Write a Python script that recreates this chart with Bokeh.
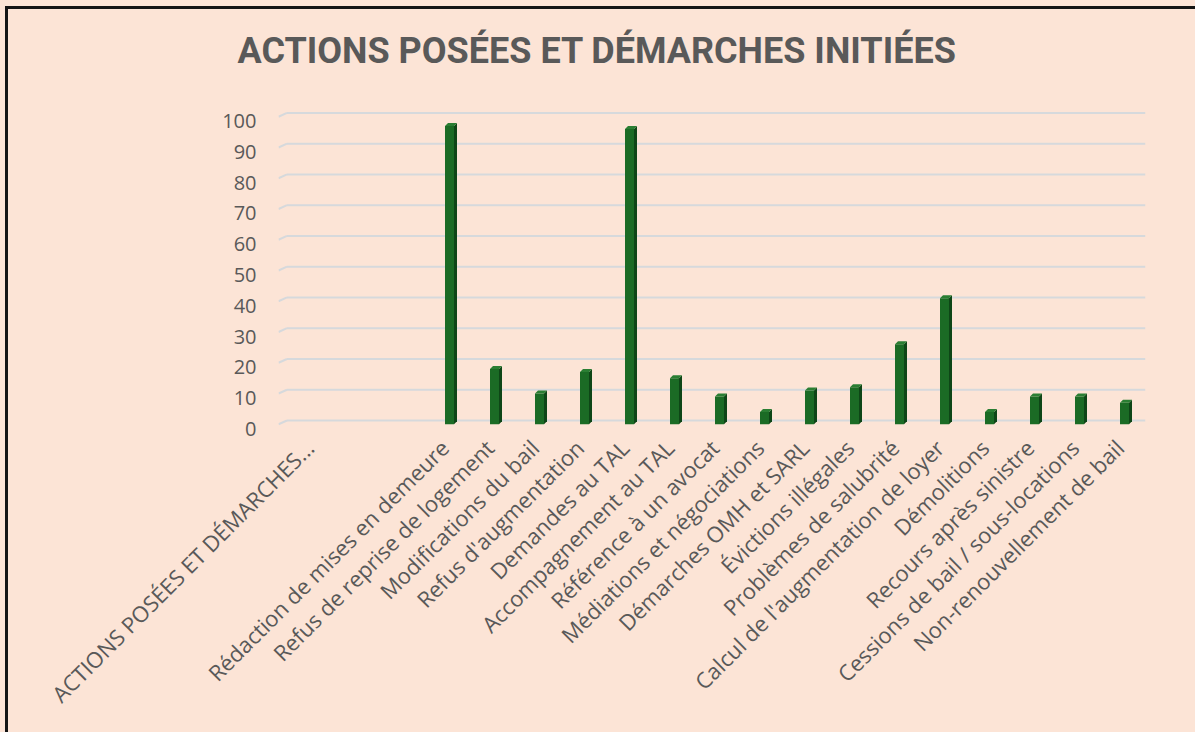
from math import pi
from bokeh.plotting import figure
from bokeh.models import Range1d, FixedTicker, LinearAxis, Title
from bokeh.embed import file_html
from bokeh.resources import INLINE

# ---------------- data ----------------
title_text = "ACTIONS POSÉES ET DÉMARCHES INITIÉES"
categories = [
    "ACTIONS POSÉES ET DÉMARCHES...",
    "",
    "",
    "Rédaction de mises en demeure",
    "Refus de reprise de logement",
    "Modifications du bail",
    "Refus d'augmentation",
    "Demandes au TAL",
    "Accompagnement au TAL",
    "Référence à un avocat",
    "Médiations et négociations",
    "Démarches OMH et SARL",
    "Évictions illégales",
    "Problèmes de salubrité",
    "Calcul de l'augmentation de loyer",
    "Démolitions",
    "Recours après sinistre",
    "Cessions de bail / sous-locations",
    "Non-renouvellement de bail",
]
values = [None, None, None, 97, 18, 10, 17, 96, 15, 9, 4, 11, 12, 26, 41, 4, 9, 9, 7]
y_ticks = list(range(0, 101, 10))

# ---------------- style / layout ----------------
BG = "#FCE4D6"
TXT = "#595959"
GRID = "#D6D9DC"
FRONT = "#1B6B25"
SIDE = "#0E4617"
TOP = "#2A7E33"

W, H = 1195, 732
B_LEFT, B_RIGHT, B_TOP, B_BOTTOM = 270, 58, 98, 308
SLOT_PX = 45.0
frame_w = W - B_LEFT - B_RIGHT
frame_h = H - B_TOP - B_BOTTOM
x_start = -0.5 - 8.5 / SLOT_PX
x_end = x_start + frame_w / SLOT_PX
y_start, y_end = -3, 103
PY = frame_h / (y_end - y_start)


def dx(px):
    return px / SLOT_PX


def dy(px):
    return px / PY


p = figure(
    width=W, height=H,
    x_range=Range1d(x_start, x_end), y_range=Range1d(y_start, y_end),
    output_backend="svg", toolbar_location=None, y_axis_location=None,
    min_border_left=B_LEFT, min_border_right=B_RIGHT,
    min_border_top=B_TOP, min_border_bottom=B_BOTTOM,
    background_fill_color=BG, border_fill_color=BG,
    outline_line_color=None,
)
p.styles = {
    "border-left": f"5px solid {BG}",
    "border-top": f"6px solid {BG}",
    "padding-left": "3px",
    "padding-top": "3px",
    "box-shadow": "inset 3px 3px 0 0 #141414",
    "background-color": BG,
}
p.xgrid.visible = False
p.ygrid.visible = False

# title
p.title.text = title_text
p.title.align = "left"
p.title.offset = -41
p.title.standoff = 0
p.title.text_font = "Roboto"
p.title.text_font_size = "36px"
p.title.text_font_style = "bold"
p.title.text_color = TXT
# invisible spacer panel between the title and the plot area
p.add_layout(Title(text=" ", text_font_size="1px", standoff=33,
                   text_color=BG), "above")

# back-wall gridlines with a small 3D floor slant at the left
wall = dy(3.8)
p.segment(x0=[-0.5] * len(y_ticks), x1=[x_end] * len(y_ticks),
          y0=[t + wall for t in y_ticks], y1=[t + wall for t in y_ticks],
          line_color=GRID, line_width=2)
p.segment(x0=[x_start] * len(y_ticks), x1=[-0.5] * len(y_ticks),
          y0=y_ticks, y1=[t + wall for t in y_ticks],
          line_color=GRID, line_width=2)

# bars (front face, side face, top cap)
idx = [i for i, v in enumerate(values) if v is not None]
vals = [values[i] for i in idx]
fl = [i + dx(0.5) for i in idx]
fr = [i + dx(9.5) for i in idx]
p.quad(left=fl, right=fr, bottom=[0] * len(idx), top=vals,
       fill_color=FRONT, line_color=None)
side_xs = [[r, r + dx(3), r + dx(3), r] for r in fr]
side_ys = [[0, dy(3), v + dy(3), v] for v in vals]
p.patches(side_xs, side_ys, fill_color=SIDE, line_color=None)
top_xs = [[l, l + dx(3), r + dx(3), r] for l, r in zip(fl, fr)]
top_ys = [[v, v + dy(3), v + dy(3), v] for v in vals]
p.patches(top_xs, top_ys, fill_color=TOP, line_color=None)

# value axis: labels sit on the front edge, slightly below the wall gridlines
lbl_shift = dy(4.5)
p.extra_y_ranges = {"lbl": Range1d(y_start + lbl_shift, y_end + lbl_shift)}
yax = LinearAxis(y_range_name="lbl", ticker=FixedTicker(ticks=y_ticks))
yax.axis_line_color = None
yax.major_tick_line_color = None
yax.minor_tick_line_color = None
yax.major_label_standoff = 16
yax.major_label_text_font = "Open Sans"
yax.major_label_text_font_size = "20px"
yax.major_label_text_color = TXT
p.add_layout(yax, "left")

p.xaxis.ticker = FixedTicker(ticks=list(range(len(categories))))
p.xaxis.major_label_overrides = {i: c for i, c in enumerate(categories)}
p.xaxis.major_label_orientation = pi / 4
p.xaxis.axis_line_color = None
p.xaxis.major_tick_line_color = None
p.xaxis.minor_tick_line_color = None
p.xaxis.major_label_standoff = 4
p.xaxis.major_label_text_font = "Open Sans"
p.xaxis.major_label_text_font_size = "22px"
p.xaxis.major_label_text_color = TXT

open("out.html", "w").write(file_html(p, INLINE))
